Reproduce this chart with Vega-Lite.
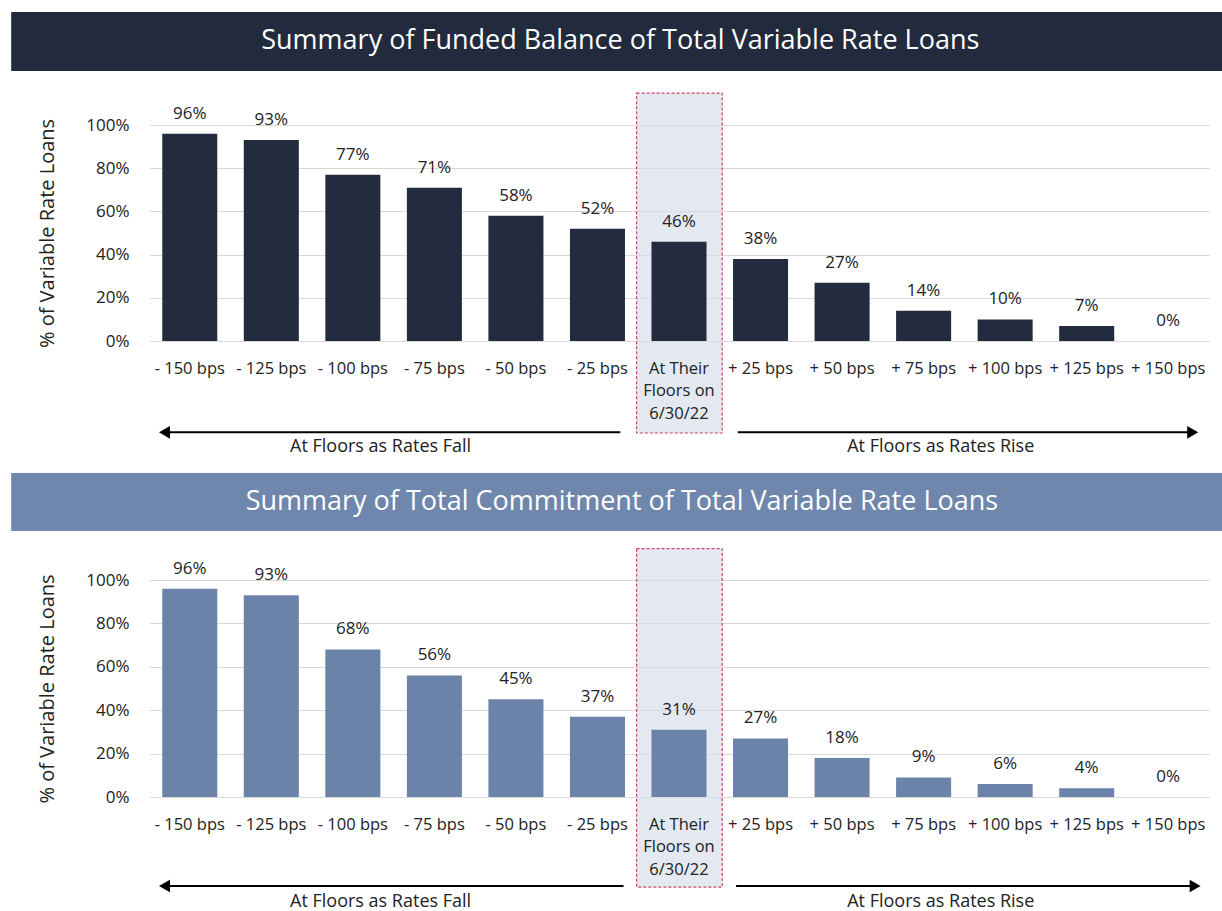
{
  "$schema": "https://vega.github.io/schema/vega-lite/v6.json",
  "autosize": {"type": "pad"},
  "padding": {"left": 11, "top": 12, "right": 0, "bottom": 12},
  "background": "white",
  "config": {
    "font": "Open Sans",
    "view": {"stroke": null},
    "axis": {"labelColor": "#222222", "titleColor": "#222222"},
    "axisY": {"titleFontSize": 20, "titleFontWeight": "normal", "titlePadding": 28, "values": [0, 0.2, 0.4, 0.6, 0.8, 1], "format": ".0%", "labelFontSize": 17, "labelPadding": 20, "domain": false, "ticks": false, "gridColor": "#d9d9d9"}
  },
  "datasets": {
    "bars": [
      {"panel": "A", "cat": "- 150 bps", "share": 0.96},
      {"panel": "A", "cat": "- 125 bps", "share": 0.93},
      {"panel": "A", "cat": "- 100 bps", "share": 0.77},
      {"panel": "A", "cat": "- 75 bps", "share": 0.71},
      {"panel": "A", "cat": "- 50 bps", "share": 0.58},
      {"panel": "A", "cat": "- 25 bps", "share": 0.52},
      {"panel": "A", "cat": "At Their|Floors on|6/30/22", "share": 0.46},
      {"panel": "A", "cat": "+ 25 bps", "share": 0.38},
      {"panel": "A", "cat": "+ 50 bps", "share": 0.27},
      {"panel": "A", "cat": "+ 75 bps", "share": 0.14},
      {"panel": "A", "cat": "+ 100 bps", "share": 0.10},
      {"panel": "A", "cat": "+ 125 bps", "share": 0.07},
      {"panel": "A", "cat": "+ 150 bps", "share": 0},
      {"panel": "B", "cat": "- 150 bps", "share": 0.96},
      {"panel": "B", "cat": "- 125 bps", "share": 0.93},
      {"panel": "B", "cat": "- 100 bps", "share": 0.68},
      {"panel": "B", "cat": "- 75 bps", "share": 0.56},
      {"panel": "B", "cat": "- 50 bps", "share": 0.45},
      {"panel": "B", "cat": "- 25 bps", "share": 0.37},
      {"panel": "B", "cat": "At Their|Floors on|6/30/22", "share": 0.31},
      {"panel": "B", "cat": "+ 25 bps", "share": 0.27},
      {"panel": "B", "cat": "+ 50 bps", "share": 0.18},
      {"panel": "B", "cat": "+ 75 bps", "share": 0.09},
      {"panel": "B", "cat": "+ 100 bps", "share": 0.06},
      {"panel": "B", "cat": "+ 125 bps", "share": 0.04},
      {"panel": "B", "cat": "+ 150 bps", "share": 0}
    ],
    "bannerA": [{"x0": -1.69, "x1": 13.2, "y0": 1.523, "y1": 1.25, "xm": 5.78, "ym": 1.39, "title": "Summary of Funded Balance of Total Variable Rate Loans"}],
    "bannerB": [{"x0": -1.69, "x1": 13.2, "y0": 1.493, "y1": 1.226, "xm": 5.8, "ym": 1.358, "title": "Summary of Total Commitment of Total Variable Rate Loans"}],
    "highlightA": [{"x0": 5.98, "x1": 7.03, "y0": 1.148, "y1": -0.426}],
    "highlightB": [{"x0": 5.98, "x1": 7.03, "y0": 1.145, "y1": -0.415}],
    "arrowsA": [
      {"dir": "left", "x0": 0.19, "x1": 5.78, "head": 0.19, "y": -0.423, "tx": 2.84, "ty": -0.491, "label": "At Floors as Rates Fall"},
      {"dir": "right", "x0": 7.22, "x1": 12.8, "head": 12.8, "y": -0.423, "tx": 9.71, "ty": -0.491, "label": "At Floors as Rates Rise"}
    ],
    "arrowsB": [
      {"dir": "left", "x0": 0.19, "x1": 5.82, "head": 0.19, "y": -0.41, "tx": 2.84, "ty": -0.485, "label": "At Floors as Rates Fall"},
      {"dir": "right", "x0": 7.2, "x1": 12.83, "head": 12.83, "y": -0.41, "tx": 9.71, "ty": -0.485, "label": "At Floors as Rates Rise"}
    ]
  },
  "bounds": "flush",
  "spacing": 239,
  "vconcat": [
    {
      "width": 1060,
      "height": 216,
      "resolve": {"scale": {"x": "independent"}, "axis": {"x": "independent"}},
      "layer": [
        {
          "layer": [
            {
              "data": {"name": "bannerA"},
              "mark": {"type": "rect", "fill": "#222b3d"},
              "encoding": {
                "x": {"field": "x0", "type": "quantitative", "scale": {"domain": [0, 13], "nice": false, "zero": false}, "axis": null},
                "x2": {"field": "x1"},
                "y": {"field": "y0", "type": "quantitative", "scale": {"domain": [0, 1], "nice": false}, "axis": {"title": "% of Variable Rate Loans"}},
                "y2": {"field": "y1"}
              }
            },
            {
              "data": {"name": "bannerA"},
              "mark": {"type": "text", "color": "white", "fontSize": 27, "baseline": "middle", "align": "center"},
              "encoding": {
                "x": {"field": "xm", "type": "quantitative"},
                "y": {"field": "ym", "type": "quantitative"},
                "text": {"field": "title"}
              }
            },
            {
              "data": {"name": "highlightA"},
              "mark": {"type": "rect", "fill": "#d6dbe8", "fillOpacity": 0.65, "stroke": "#cc4466", "strokeWidth": 1.2, "strokeDash": [3, 2]},
              "encoding": {
                "x": {"field": "x0", "type": "quantitative"},
                "x2": {"field": "x1"},
                "y": {"field": "y0", "type": "quantitative"},
                "y2": {"field": "y1"}
              }
            },
            {
              "data": {"name": "arrowsA"},
              "mark": {"type": "rule", "color": "black", "strokeWidth": 2},
              "encoding": {
                "x": {"field": "x0", "type": "quantitative"},
                "x2": {"field": "x1"},
                "y": {"field": "y", "type": "quantitative"}
              }
            },
            {
              "data": {"name": "arrowsA"},
              "mark": {"type": "point", "filled": true, "color": "black", "opacity": 1, "size": 160},
              "encoding": {
                "x": {"field": "head", "type": "quantitative"},
                "y": {"field": "y", "type": "quantitative"},
                "shape": {"field": "dir", "type": "nominal", "scale": {"domain": ["left", "right"], "range": ["triangle-left", "triangle-right"]}, "legend": null}
              }
            },
            {
              "data": {"name": "arrowsA"},
              "mark": {"type": "text", "fontSize": 18, "color": "#222222", "baseline": "middle"},
              "encoding": {
                "x": {"field": "tx", "type": "quantitative"},
                "y": {"field": "ty", "type": "quantitative"},
                "text": {"field": "label"}
              }
            }
          ]
        },
        {
          "data": {"name": "bars"},
          "transform": [{"filter": "datum.panel == 'A'"}],
          "encoding": {
            "x": {
              "field": "cat", "type": "nominal", "sort": null,
              "scale": {"paddingInner": 0.325, "paddingOuter": 0.1625},
              "axis": {"orient": "bottom", "title": null, "labelAngle": 0, "domain": false, "ticks": false, "labelFontSize": 16.5, "labelPadding": 19, "labelLineHeight": 22.5, "labelExpr": "split(datum.label, '|')", "zindex": 1}
            },
            "y": {"field": "share", "type": "quantitative", "scale": {"domain": [0, 1], "nice": false}, "axis": {"title": "% of Variable Rate Loans"}}
          },
          "layer": [
            {"mark": {"type": "bar", "color": "#232c3f"}},
            {
              "mark": {"type": "text", "fontSize": 17, "color": "#222222", "baseline": "alphabetic", "dy": -15},
              "encoding": {"text": {"field": "share", "type": "quantitative", "format": ".0%"}}
            }
          ]
        }
      ]
    },
    {
      "width": 1060,
      "height": 217,
      "resolve": {"scale": {"x": "independent"}, "axis": {"x": "independent"}},
      "layer": [
        {
          "layer": [
            {
              "data": {"name": "bannerB"},
              "mark": {"type": "rect", "fill": "#6f86ad"},
              "encoding": {
                "x": {"field": "x0", "type": "quantitative", "scale": {"domain": [0, 13], "nice": false, "zero": false}, "axis": null},
                "x2": {"field": "x1"},
                "y": {"field": "y0", "type": "quantitative", "scale": {"domain": [0, 1], "nice": false}, "axis": {"title": "% of Variable Rate Loans"}},
                "y2": {"field": "y1"}
              }
            },
            {
              "data": {"name": "bannerB"},
              "mark": {"type": "text", "color": "white", "fontSize": 27, "baseline": "middle", "align": "center"},
              "encoding": {
                "x": {"field": "xm", "type": "quantitative"},
                "y": {"field": "ym", "type": "quantitative"},
                "text": {"field": "title"}
              }
            },
            {
              "data": {"name": "highlightB"},
              "mark": {"type": "rect", "fill": "#d6dbe8", "fillOpacity": 0.65, "stroke": "#cc4466", "strokeWidth": 1.2, "strokeDash": [3, 2]},
              "encoding": {
                "x": {"field": "x0", "type": "quantitative"},
                "x2": {"field": "x1"},
                "y": {"field": "y0", "type": "quantitative"},
                "y2": {"field": "y1"}
              }
            },
            {
              "data": {"name": "arrowsB"},
              "mark": {"type": "rule", "color": "black", "strokeWidth": 2},
              "encoding": {
                "x": {"field": "x0", "type": "quantitative"},
                "x2": {"field": "x1"},
                "y": {"field": "y", "type": "quantitative"}
              }
            },
            {
              "data": {"name": "arrowsB"},
              "mark": {"type": "point", "filled": true, "color": "black", "opacity": 1, "size": 160},
              "encoding": {
                "x": {"field": "head", "type": "quantitative"},
                "y": {"field": "y", "type": "quantitative"},
                "shape": {"field": "dir", "type": "nominal", "scale": {"domain": ["left", "right"], "range": ["triangle-left", "triangle-right"]}, "legend": null}
              }
            },
            {
              "data": {"name": "arrowsB"},
              "mark": {"type": "text", "fontSize": 18, "color": "#222222", "baseline": "middle"},
              "encoding": {
                "x": {"field": "tx", "type": "quantitative"},
                "y": {"field": "ty", "type": "quantitative"},
                "text": {"field": "label"}
              }
            }
          ]
        },
        {
          "data": {"name": "bars"},
          "transform": [{"filter": "datum.panel == 'B'"}],
          "encoding": {
            "x": {
              "field": "cat", "type": "nominal", "sort": null,
              "scale": {"paddingInner": 0.325, "paddingOuter": 0.1625},
              "axis": {"orient": "bottom", "title": null, "labelAngle": 0, "domain": false, "ticks": false, "labelFontSize": 16.5, "labelPadding": 19, "labelLineHeight": 22.5, "labelExpr": "split(datum.label, '|')", "zindex": 1}
            },
            "y": {"field": "share", "type": "quantitative", "scale": {"domain": [0, 1], "nice": false}, "axis": {"title": "% of Variable Rate Loans"}}
          },
          "layer": [
            {"mark": {"type": "bar", "color": "#6c83a9"}},
            {
              "mark": {"type": "text", "fontSize": 17, "color": "#222222", "baseline": "alphabetic", "dy": -15},
              "encoding": {"text": {"field": "share", "type": "quantitative", "format": ".0%"}}
            }
          ]
        }
      ]
    }
  ]
}
